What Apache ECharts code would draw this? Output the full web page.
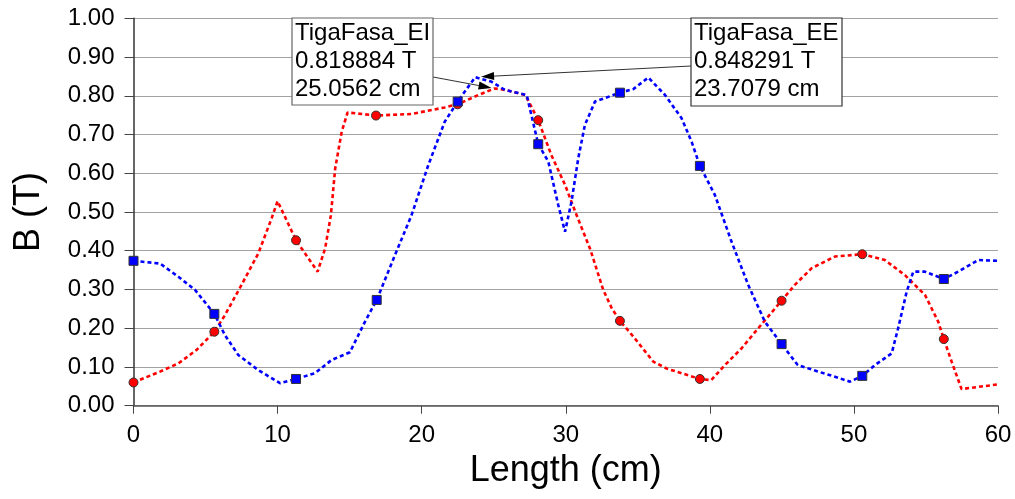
<!DOCTYPE html>
<html><head><meta charset="utf-8">
<script src="https://cdn.jsdelivr.net/npm/echarts@6.0.0/dist/echarts.min.js"></script>
<style>html,body{margin:0;padding:0;background:#fff}#c{width:1015px;height:499px}</style>
</head><body><div id="c"></div>
<script>
// ---- data ----
const redX = [0, 1.84, 3.11, 4.38, 5.61, 6.35, 7.5, 8.66, 9.59, 10.0, 11.28, 12.78, 13.3, 13.7, 14.0, 14.45, 14.86, 16.83, 19.3, 21.6, 22.5, 23.93, 25.06, 25.8, 27.2, 28.09, 29.0, 29.95, 30.7, 31.7, 32.6, 33.2, 33.76, 34.7, 36.07, 37.0, 38.2, 39.31, 40.1, 41.05, 42.2, 43.36, 44.98, 45.9, 47.07, 48.68, 50.58, 52.15, 53.54, 54.93, 55.85, 56.24, 56.78, 57.47, 60];
const redY = [0.060, 0.088, 0.109, 0.144, 0.191, 0.234, 0.312, 0.393, 0.484, 0.528, 0.427, 0.346, 0.406, 0.492, 0.613, 0.707, 0.757, 0.749, 0.753, 0.770, 0.778, 0.802, 0.819, 0.815, 0.802, 0.737, 0.647, 0.570, 0.497, 0.404, 0.299, 0.251, 0.219, 0.178, 0.114, 0.096, 0.082, 0.069, 0.066, 0.105, 0.148, 0.200, 0.271, 0.312, 0.355, 0.385, 0.391, 0.376, 0.337, 0.286, 0.217, 0.172, 0.114, 0.043, 0.055];
const blueX = [0, 1.84, 3.11, 4.27, 5.61, 6.35, 7.27, 8.66, 10.17, 11.28, 12.6, 13.75, 15.02, 16.07, 16.88, 18.15, 19.3, 20.46, 21.6, 22.5, 23.71, 24.86, 25.78, 27.29, 28.09, 28.79, 29.48, 29.95, 30.4, 30.87, 31.33, 32.03, 33.76, 34.68, 35.73, 36.89, 38.04, 38.74, 39.31, 40.35, 41.51, 42.66, 43.82, 44.98, 46.1, 47.52, 48.68, 49.72, 50.58, 51.46, 52.62, 53.07, 53.66, 54.12, 54.93, 56.24, 57.24, 58.63, 60];
const blueY = [0.374, 0.367, 0.333, 0.299, 0.237, 0.182, 0.131, 0.092, 0.058, 0.069, 0.084, 0.118, 0.138, 0.217, 0.273, 0.389, 0.492, 0.621, 0.733, 0.785, 0.848, 0.836, 0.815, 0.802, 0.675, 0.630, 0.518, 0.449, 0.527, 0.639, 0.725, 0.785, 0.808, 0.817, 0.847, 0.802, 0.742, 0.681, 0.619, 0.544, 0.423, 0.312, 0.217, 0.159, 0.105, 0.088, 0.075, 0.062, 0.077, 0.105, 0.135, 0.200, 0.294, 0.346, 0.346, 0.327, 0.346, 0.376, 0.374];
const redMarkX = [0, 5.61, 11.28, 16.83, 22.5, 28.09, 33.76, 39.31, 44.98, 50.58, 56.24];
const redMarkY = [0.060, 0.191, 0.427, 0.749, 0.778, 0.737, 0.219, 0.069, 0.271, 0.391, 0.172];
const blueMarkX = [0, 5.61, 11.28, 16.88, 22.5, 28.09, 33.76, 39.31, 44.98, 50.58, 56.24];
const blueMarkY = [0.374, 0.237, 0.069, 0.273, 0.785, 0.675, 0.808, 0.619, 0.159, 0.077, 0.327];
const annNames = ['TigaFasa_EI', 'TigaFasa_EE'];
const annX = [25.0562, 23.7079];
const annY = [0.818884, 0.848291];
const xTitle = 'Length (cm)';
const yTitle = 'B (T)';

const FONT = '"Liberation Sans", Arial, sans-serif';
const zip = (a, b) => a.map((v, i) => [v, b[i]]);

const chart = echarts.init(document.getElementById('c'), null, {renderer: 'canvas'});
chart.setOption({
  animation: false,
  backgroundColor: '#fff',
  grid: {left: 133.5, right: 17, top: 18.3, bottom: 93.3},
  xAxis: {
    type: 'value', min: 0, max: 60, interval: 10, offset: 4,
    name: xTitle, nameLocation: 'middle', nameGap: 33,
    nameTextStyle: {fontFamily: FONT, fontSize: 36, color: '#000'},
    axisLine: {show: true, lineStyle: {color: '#555', width: 1.5}},
    axisTick: {show: true, length: 8, lineStyle: {color: '#444'}},
    axisLabel: {fontFamily: FONT, fontSize: 24, color: '#000', margin: 14},
    splitLine: {show: false}
  },
  yAxis: {
    type: 'value', min: 0, max: 1, interval: 0.1, offset: 5,
    name: yTitle, nameLocation: 'middle', nameGap: 81, nameRotate: 90,
    nameTextStyle: {fontFamily: FONT, fontSize: 36, color: '#000'},
    axisLine: {show: true, lineStyle: {color: '#333', width: 1.5}},
    axisTick: {show: true, length: 9, lineStyle: {color: '#444'}},
    axisLabel: {fontFamily: FONT, fontSize: 24, color: '#000', margin: 14, formatter: v => v.toFixed(2)},
    splitLine: {show: true, lineStyle: {color: '#444', width: 1, type: [1, 1]}}
  },
  series: [
    {name: annNames[0], type: 'line', data: zip(redX, redY), symbol: 'none',
     lineStyle: {color: '#ff0000', width: 2.6, type: [4, 3]}, z: 2},
    {name: annNames[1], type: 'line', data: zip(blueX, blueY), symbol: 'none',
     lineStyle: {color: '#0000ff', width: 2.6, type: [4, 3]}, z: 3},
    {type: 'scatter', data: zip(redMarkX, redMarkY), symbol: 'circle', symbolSize: 9,
     itemStyle: {color: '#ff0000', borderColor: '#333', borderWidth: 1, opacity: 1}, z: 4},
    {type: 'scatter', data: zip(blueMarkX, blueMarkY), symbol: 'rect', symbolSize: 9,
     itemStyle: {color: '#0000ff', borderColor: '#333', borderWidth: 1, opacity: 1}, z: 5}
  ]
});

// ---- annotations (boxes + arrows pointing at data points) ----
const boxes = [
  {x: 292, y: 18, w: 141, h: 87, from: [433, 77], stroke: '#666'},
  {x: 691, y: 18, w: 151, h: 88, from: [691, 66], stroke: '#333'}
];
const g = [];
annNames.forEach((nm, i) => {
  const b = boxes[i];
  const p = chart.convertToPixel({gridIndex: 0}, [annX[i], annY[i]]);
  const dx = p[0] - b.from[0], dy = p[1] - b.from[1];
  const len = Math.hypot(dx, dy), ux = dx / len, uy = dy / len;
  const shorten = i === 0 ? 3 : 6;
  const tip = [p[0] - ux * shorten, p[1] - uy * shorten];
  const L = 13, W = 4;
  const base = [tip[0] - ux * L, tip[1] - uy * L];
  g.push({type: 'line', z: 100, shape: {x1: b.from[0], y1: b.from[1], x2: base[0], y2: base[1]},
          style: {stroke: '#333', lineWidth: 1}});
  g.push({type: 'polygon', z: 100, shape: {points: [tip, [base[0] - uy * W, base[1] + ux * W], [base[0] + uy * W, base[1] - ux * W]]},
          style: {fill: '#000'}});
  g.push({type: 'rect', z: 101, shape: {x: b.x, y: b.y, width: b.w, height: b.h},
          style: {fill: '#fff', stroke: b.stroke, lineWidth: 1.2}});
  g.push({type: 'text', z: 102, x: b.x + 3, y: b.y + 1,
          style: {text: nm + '\n' + annY[i].toFixed(6) + ' T\n' + annX[i].toFixed(4) + ' cm',
                  fontSize: 24, fontFamily: FONT, lineHeight: 28, fill: '#000'}});
});
chart.setOption({graphic: g});
</script>
</body></html>
